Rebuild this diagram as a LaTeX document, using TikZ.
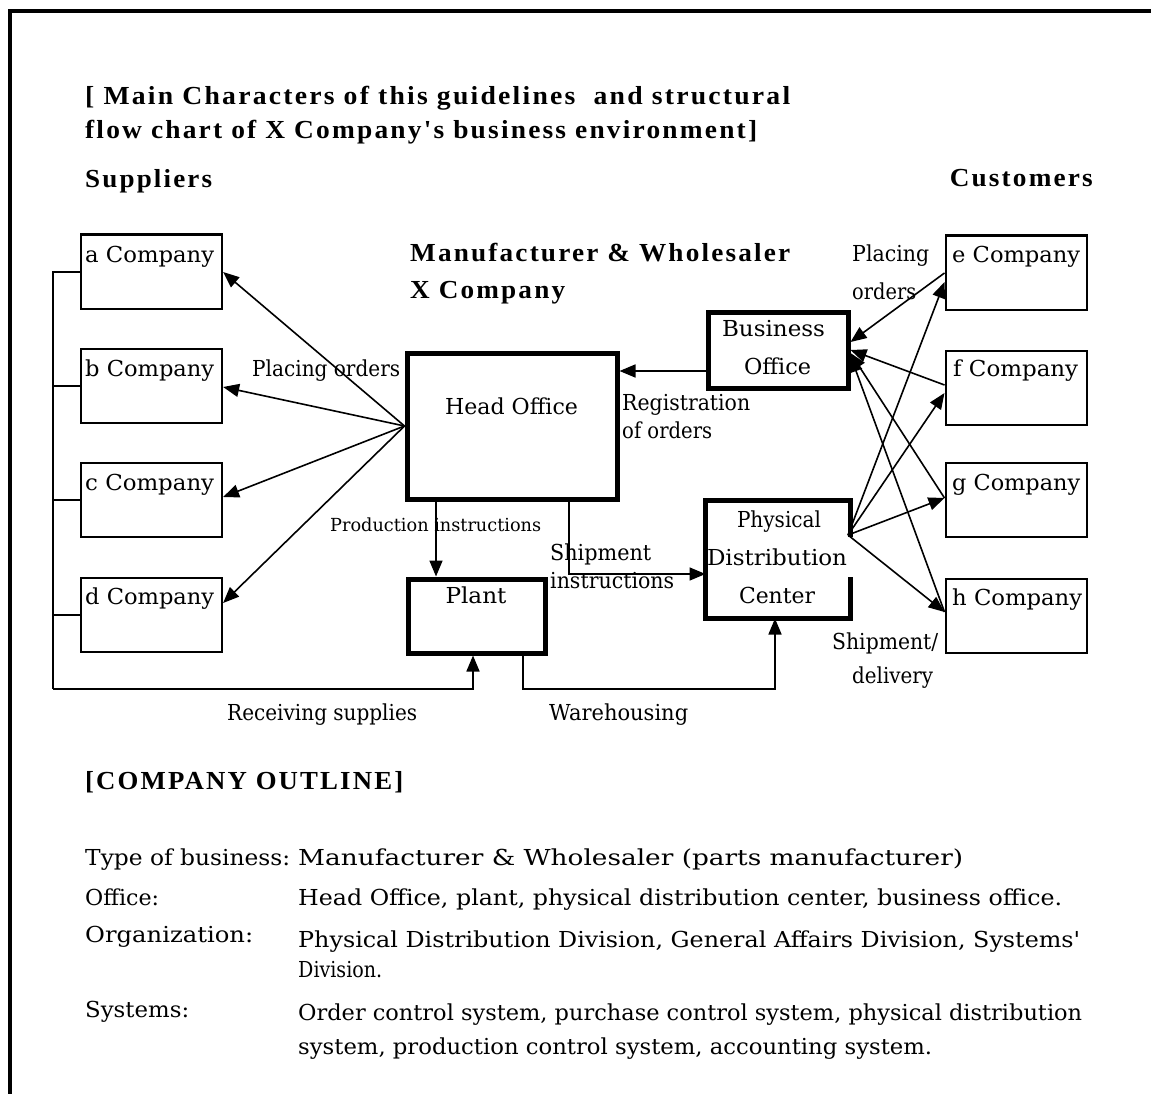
\documentclass[tikz,border=0pt]{standalone}
\usepackage{graphicx}
\usepackage{fontspec}
\setmainfont{DejaVu Serif}[Ligatures=TeXOff]
\newfontfamily\hfont[LetterSpace=8]{Liberation Serif}
\usetikzlibrary{arrows.meta}
\newcommand\fitw[2]{\resizebox{#1}{\height}{#2}}
\begin{document}
\begin{tikzpicture}[x=1pt,y=-1pt,
  comp/.style={draw, line width=2.6pt, minimum width=141pt, minimum height=74pt, anchor=north west, inner sep=0pt},
  mainbox/.style={line width=5pt, anchor=north west, inner sep=0pt},
  txt/.style={inner sep=0pt, anchor=base west, font=\fontsize{22}{26}\selectfont},
  ctxt/.style={txt, anchor=base},
  small/.style={inner sep=0pt, anchor=base west, font=\fontsize{18}{20}\selectfont},
  hd/.style={inner sep=0pt, anchor=base west, font=\hfont\bfseries\fontsize{26}{30}\selectfont},
  conn/.style={line width=1.6pt},
  arr/.style={conn, -{Triangle[length=16pt,width=13pt]}},
  mainline/.style={line width=5pt}
]
\useasboundingbox (0,0) rectangle (1151,1094);
% frame
\draw[line width=4pt] (9.5,1094) -- (9.5,11.5) -- (1151,11.5);

% headings
\node[hd] (t1) at (85,105) {\fitw{705pt}{[ Main Characters of this guidelines\ \ and structural}};
\node[hd] (t2) at (85,139) {\fitw{672pt}{flow chart of X Company's business environment]}};
\node[hd] (sup) at (85,187) {\fitw{127pt}{Suppliers}};
\node[hd, anchor=base east] (cus) at (1093,187) {\fitw{143pt}{Customers}};
\node[hd] (mw1) at (410,261) {\fitw{380pt}{Manufacturer \& Wholesaler}};
\node[hd] (mw2) at (410,298) {\fitw{155pt}{X Company}};

% supplier boxes
\node[comp] (a) at (79.5,233.5) {};
\node[comp] (b) at (79.5,347.5) {};
\node[comp] (c) at (79.5,461.5) {};
\node[comp] (d) at (79.5,576.5) {};
\node[txt] (at) at (85,262) {\fitw{129pt}{a Company}};
\node[txt] (bt) at (85,376) {\fitw{129pt}{b Company}};
\node[txt] (ct) at (85,490) {\fitw{129pt}{c Company}};
\node[txt] (dt) at (85,604) {\fitw{129pt}{d Company}};

% customer boxes
\node[comp] (e) at (944.5,234.5) {};
\node[comp] (f) at (944.5,349.5) {};
\node[comp] (g) at (944.5,461.5) {};
\node[comp] (h) at (944.5,577.5) {};
\node[txt] (et) at (952,262) {\fitw{128pt}{e Company}};
\node[txt] (ft) at (953,376) {\fitw{125pt}{f Company}};
\node[txt] (gt) at (952,490) {\fitw{128pt}{g Company}};
\node[txt] (ht) at (952,605) {\fitw{130pt}{h Company}};

% main boxes
\node[mainbox, draw, minimum width=210pt, minimum height=146pt] (HO) at (404.5,350.5) {};
\node[mainbox, draw, minimum width=137pt, minimum height=74pt] (PL) at (405.5,576.5) {};
\node[mainbox, draw, minimum width=140pt, minimum height=76pt] (BO) at (705.5,309.5) {};
\node[mainbox, minimum width=140pt, minimum height=113pt] (PDC) at (705.5,500.5) {};
\draw[mainline] (PDC.north east |- 0,537) -- (PDC.north east) -- (PDC.north west)
  -- (PDC.south west) -- (PDC.south east) -- (PDC.south east |- 0,577);

\node[ctxt] (hot) at (511.5,414) {\fitw{133pt}{Head Office}};
\node[ctxt] (plt) at (476,603) {\fitw{61pt}{Plant}};
\node[ctxt] (bo1) at (773.5,336) {\fitw{103pt}{Business}};
\node[ctxt] (bo2) at (777.5,374) {\fitw{67pt}{Office}};
\node[ctxt] (pd1) at (779,527) {\fitw{84pt}{Physical}};
\node[ctxt] (pd2) at (777,565) {\fitw{140pt}{Distribution}};
\node[ctxt] (pd3) at (777,603) {\fitw{76pt}{Center}};

% supplier bus
\coordinate (busTop) at (53,0);
\draw[conn] (a.west) -- (a.west -| busTop) -- (53,689);
\draw[arr] (53,689) -| (PL.south -| 473,0);
\draw[conn] (b.west) -- (b.west -| busTop);
\draw[conn] (c.west) -- (c.west -| busTop);
\draw[conn] (d.west) -- (d.west -| busTop);

% warehousing
\draw[arr] (PL.south -| 523,0) -- (523,689) -| (PDC.south -| 775,0);

% head office to suppliers
\draw[arr] (HO.west) -- (a.east |- 0,272);
\draw[arr] (HO.west) -- (b.east |- 0,387);
\draw[arr] (HO.west) -- (c.east |- 0,497);
\draw[arr] (HO.west) -- (d.east |- 0,603);

% production / shipment instructions
\draw[arr] (HO.south -| 436,0) -- (PL.north -| 436,0);
\draw[arr] (HO.south -| 569,0) -- (569,574) -- (PDC.west |- 0,574);

% registration of orders
\draw[arr] (BO.west |- 0,371) -- (HO.east |- 0,371);

% customers to business office
\draw[arr] (e.west |- 0,273) -- (BO.east |- 0,342);
\draw[arr] (f.west |- 0,385) -- (BO.east |- 0,350);
\draw[arr] (g.west |- 0,498) -- (BO.east |- 0,353);
\draw[arr] (h.west |- 0,612) -- (BO.east |- 0,356);

% physical distribution center to customers
\coordinate (pdo) at (848,535);
\draw[arr] (pdo) -- (e.west |- 0,282);
\draw[arr] (pdo) -- (f.west |- 0,393);
\draw[arr] (pdo) -- (g.west |- 0,498);
\draw[arr] (pdo) -- (h.west |- 0,612);

% labels
\node[txt] (lpo) at (252,376) {\fitw{148pt}{Placing orders}};
\node[txt] (lr1) at (622,410) {\fitw{128pt}{Registration}};
\node[txt] (lr2) at (622,438) {\fitw{90pt}{of orders}};
\node[small] (lpi) at (330,531) {\fitw{211pt}{Production instructions}};
\node[txt] (ls1) at (550,560) {\fitw{101pt}{Shipment}};
\node[txt] (ls2) at (550,588) {\fitw{124pt}{instructions}};
\node[txt] (lrs) at (227,720) {\fitw{190pt}{Receiving supplies}};
\node[txt] (lwh) at (549,720) {\fitw{139pt}{Warehousing}};
\node[txt] (lp1) at (852,261) {\fitw{77pt}{Placing}};
\node[txt] (lp2) at (852,299) {\fitw{64pt}{orders}};
\node[txt] (lsd1) at (832,649) {\fitw{106pt}{Shipment/}};
\node[txt] (lsd2) at (852,683) {\fitw{81pt}{delivery}};

% company outline
\node[hd] (co) at (85,789) {\fitw{318pt}{[COMPANY OUTLINE]}};
\node[txt] (k1) at (85,865) {\fitw{205pt}{Type of business:}};
\node[txt] (v1) at (298,865) {\fitw{665pt}{Manufacturer \& Wholesaler (parts manufacturer)}};
\node[txt] (k2) at (85,905) {\fitw{74pt}{Office:}};
\node[txt] (v2) at (298,905) {\fitw{764pt}{Head Office, plant, physical distribution center, business office.}};
\node[txt] (k3) at (85,942) {\fitw{168pt}{Organization:}};
\node[txt] (v3a) at (298,947) {\fitw{782pt}{Physical Distribution Division, General Affairs Division, Systems'}};
\node[txt] (v3b) at (298,977) {\fitw{84pt}{Division.}};
\node[txt] (k4) at (85,1017) {\fitw{104pt}{Systems:}};
\node[txt] (v4a) at (298,1020) {\fitw{784pt}{Order control system, purchase control system, physical distribution}};
\node[txt] (v4b) at (298,1054) {\fitw{634pt}{system, production control system, accounting system.}};
\end{tikzpicture}
\end{document}
